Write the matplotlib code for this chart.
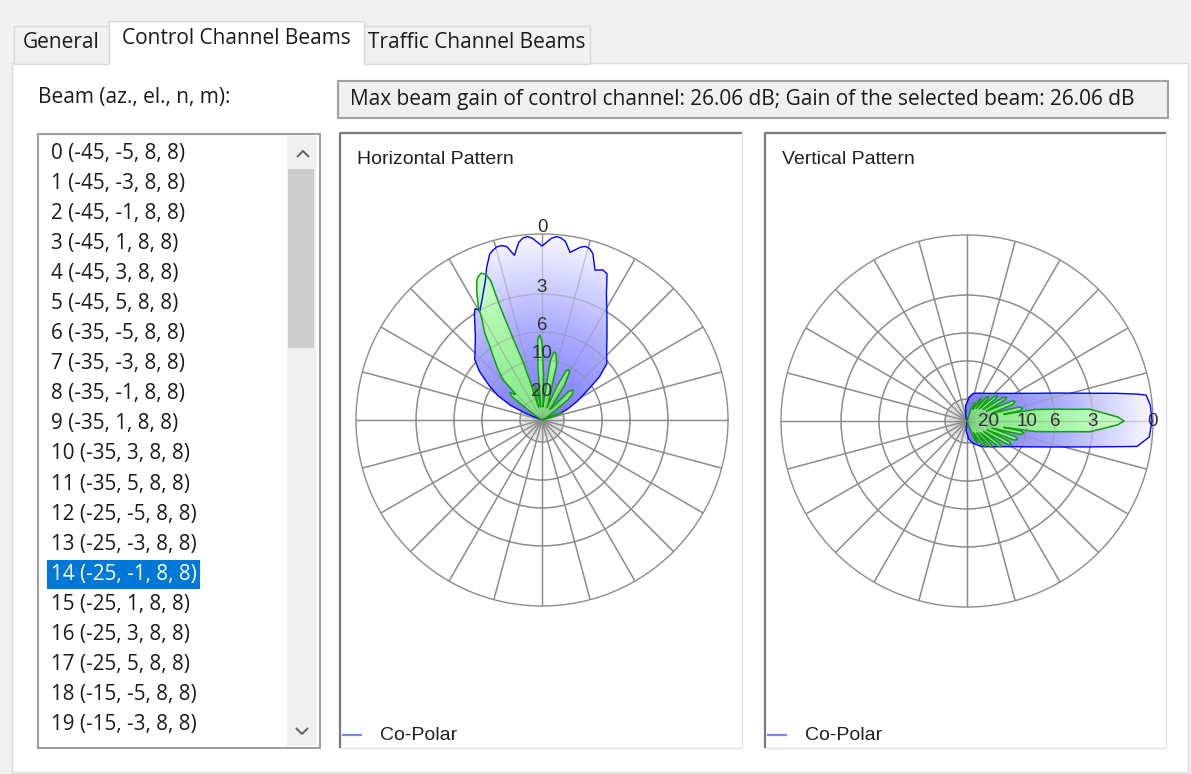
import numpy as np
import matplotlib
matplotlib.use('Agg')
import matplotlib.pyplot as plt
from matplotlib.patches import Rectangle
from matplotlib.colors import LinearSegmentedColormap

W, H = 1191, 774
UI_FONT = ['Open Sans', 'DejaVu Sans']
PLOT_FONT = ['Liberation Sans', 'DejaVu Sans']

TABS = ['General', 'Control Channel Beams', 'Traffic Channel Beams']
INFO = 'Max beam gain of control channel: 26.06 dB; Gain of the selected beam: 26.06 dB'

# beam list (index, az, el, n, m)
BEAM_AZ = [-45] * 6 + [-35] * 6 + [-25] * 6 + [-15] * 2
BEAM_EL = [-5, -3, -1, 1, 3, 5] * 3 + [-5, -3]
BEAM_N = 8
BEAM_M = 8
SELECTED = 14

# radial scale: attenuation (dB) -> normalised radius
RING_DB = [0, 3, 6, 10, 20, 30]
RING_R = [1.0, 0.677, 0.473, 0.323, 0.118, 0.0]

# horizontal pattern, envelope over all beams (angle deg, attenuation dB)
H_ENV_ANG = [16, 19, 23, 28, 33, 37, 41, 46, 51, 55, 59, 63, 66, 68, 70.5, 73, 74.5, 76, 77.5,
             80.5, 82.5, 84, 85.5, 87, 90, 93, 94.5, 96, 97.5, 99.5, 101.5, 103, 104.5, 106,
             107.5, 110, 112, 116, 119.5, 121, 122.5, 128.5, 133, 138, 142, 147, 151, 155, 158, 162]
H_ENV_DB = [30, 22, 18.5, 15.3, 11.5, 8.3, 6.3, 5.6, 4.8, 4.0, 3.0, 2.2, 1.3, 1.2, 1.35, 0.6, 0.4,
            0.35, 0.45, 0.8, 0.3, 0.15, 0.1, 0.2, 0.6, 0.2, 0.1, 0.15, 0.35, 0.95, 0.45, 0.35,
            0.35, 0.45, 0.6, 1.2, 1.75, 2.5, 3.0, 2.8, 3.0, 4.5, 5.2, 5.8, 7.2, 9.6, 12.5, 16.6, 22, 30]

# horizontal pattern, selected beam
H_SEL_ANG = [12, 17, 18.5, 19.5, 20.5, 22, 27, 33, 38, 41, 44, 47, 50, 53, 57, 60, 62, 64, 66, 68,
             71, 75, 78, 80, 82, 84, 86, 88, 90, 91.5, 93, 94.5, 96, 98, 100.5, 103, 105, 107, 108,
             109.5, 110.3, 110.2, 111, 112.5, 114, 115, 117, 119.3, 121, 123.3, 125.5, 127.5, 131,
             134, 135.5, 137, 139.5, 142, 144, 147, 152]
H_SEL_DB = [30, 24, 21, 20.4, 21, 24, 28, 26, 17, 15, 14.4, 15.5, 22, 24, 15, 11.5, 10.7, 11.5, 16,
            24, 20, 11, 8.9, 8.7, 10, 20, 24, 14, 7.5, 6.4, 7, 12, 24, 19, 16.6, 18, 24, 16.6, 10,
            6.3, 3.3, 1.9, 1.5, 1.35, 1.45, 1.6, 2.1, 2.8, 3.8, 4.7, 5.9, 7.1, 9, 11, 16, 16, 14.7,
            15.5, 22, 27, 30]

# vertical pattern, envelope over all beams
V_ENV_ANG = [-105, -95, -85, -75, -60, -45, -30, -22, -16, -12, -10, -8.5, -5, 0, 5, 8.2, 9, 10.5,
             13, 17, 22, 28, 35, 45, 55, 65, 77, 85, 95, 105]
V_ENV_DB = [30, 25.5, 21.8, 19.7, 18, 16.2, 12.3, 8.7, 5.5, 3.1, 1.9, 0.7, 0.15, 0.05, 0.1, 0.25,
            0.7, 1.7, 3.2, 5.4, 8.0, 10.3, 13.1, 15.5, 16.9, 17.7, 18.3, 19.5, 23, 27.7]

# vertical pattern, selected beam
V_SEL_ANG = [-80, -69, -67, -65, -63, -60.5, -57, -55, -53, -50.5,
             -48, -46, -44, -41.5, -39, -37, -35, -32.5, -30, -28,
             -26, -24, -22, -20, -18, -16, -14, -12, -10.5, -9.8,
             -8.8, -6.8, -5.6, -5.0, -2.7, -1.4, 0, 1.5, 2.9, 5.5,
             6.1, 7.5, 9.6, 10.4, 11, 13, 15, 17.5, 20, 22,
             24, 26.5, 29, 31, 33, 35.5, 38, 40, 42, 44.5,
             47, 49, 51, 53.5, 56, 58, 60, 62.5, 65, 67,
             69, 72, 82]
V_SEL_DB = [30, 25, 20.4, 19.5, 20.4, 24, 18.2, 17.4, 18.2, 23,
            16.9, 16.1, 16.9, 22, 15.3, 14.5, 15.3, 21, 13.4, 12.6,
            13.4, 20, 12.4, 11.6, 12.4, 19, 11.3, 10.5, 11.3, 16,
            8.7, 5.8, 4.3, 3.2, 2.3, 1.75, 1.45, 1.75, 2.3, 3.2,
            4.3, 5.8, 8.7, 16, 11.6, 10.8, 11.6, 19, 12.9, 12.1,
            12.9, 20, 14.5, 13.7, 14.5, 21, 16.1, 15.3, 16.1, 22,
            17.9, 17.1, 17.9, 23, 19.5, 18.7, 19.5, 24, 21.7, 20.9,
            21.7, 25, 30]


def to_radius(db):
    return np.interp(db, RING_DB, RING_R)


blue_cmap = LinearSegmentedColormap.from_list('env', [(0, (112/255, 112/255, 1)), (0.5, (172/255, 172/255, 1)),
                                                     (1, (248/255, 248/255, 1))])
green_cmap = LinearSegmentedColormap.from_list('sel', [(0, (128/255, 228/255, 128/255)),
                                                      (0.5, (165/255, 245/255, 165/255)),
                                                      (1, (222/255, 1, 222/255))])
GRID = '#8c8c8c'

fig = plt.figure(figsize=(W / 100, H / 100), dpi=100, facecolor='#f0f0f0')
ui = fig.add_axes([0, 0, 1, 1])
ui.set_xlim(0, W)
ui.set_ylim(H, 0)
ui.axis('off')


def box(x0, y0, x1, y1, fc, ec='none', lw=0, z=1):
    ui.add_patch(Rectangle((x0, y0), x1 - x0, y1 - y0, facecolor=fc, edgecolor=ec, linewidth=lw, zorder=z))


def line(xs, ys, c, lw, z=2):
    ui.plot(xs, ys, color=c, lw=lw, zorder=z, solid_capstyle='butt')


# tab page
box(12, 63, 1188, 772, 'white', '#dadada', 1)
box(14, 26, 109, 64, '#f0f0f0', '#d9d9d9', 1)
box(364, 26, 590, 64, '#f0f0f0', '#d9d9d9', 1)
box(109, 21, 364, 64.6, 'white', 'none', 0, z=2)
line([109, 109, 364, 364], [64, 21, 21, 64], '#d9d9d9', 1, z=3)
ui.text(61, 43, TABS[0], family=UI_FONT, fontsize=15, color='#1a1a1a', ha='center', va='center')
ui.text(236, 38, TABS[1], family=UI_FONT, fontsize=15, color='#1a1a1a', ha='center', va='center', zorder=4)
ui.text(477, 43, TABS[2], family=UI_FONT, fontsize=15, color='#1a1a1a', ha='center', va='center')

ui.text(38, 97, 'Beam (az., el., n, m):', family=UI_FONT, fontsize=15, color='#1a1a1a', va='center')
box(338, 81, 1168, 118, '#f0f0f0', '#a0a0a0', 1.5)
ui.text(350, 100, INFO, family=UI_FONT, fontsize=15, color='#1a1a1a', va='center')

# beam list box with scrollbar
box(38, 134, 320, 748, 'white', '#a0a0a0', 1.5)
box(287, 136, 316, 746, '#f0f0f0')
box(288, 169, 314, 348, '#cdcdcd')
line([297, 303, 309], [157, 151, 157], '#606060', 1.4)
line([296, 302, 308], [728, 734, 728], '#606060', 1.4)
for i, (az, el) in enumerate(zip(BEAM_AZ, BEAM_EL)):
    y = 153 + 30.1 * i
    label = f'{i} ({az}, {el}, {BEAM_N}, {BEAM_M})'
    col = '#1a1a1a'
    if i == SELECTED:
        box(47, y - 14.5, 200, y + 14.5, '#0078d7', z=2)
        col = 'white'
    ui.text(51, y, label, family=UI_FONT, fontsize=14.9, color=col, va='center', zorder=3)


def panel(x0, x1, title):
    box(x0, 133, x1, 748, 'white', '#e3e3e3', 1)
    line([x0, x0, x1], [748, 133, 133], '#7a7a7a', 1.6, z=3)
    ui.text(x0 + 17, 160, title, family=PLOT_FONT, fontsize=14, color='#202020', va='center')
    line([x0 + 2, x0 + 22], [735, 735], '#8080ff', 1.6)
    ui.text(x0 + 40, 735, 'Co-Polar', family=PLOT_FONT, fontsize=14, color='#202020', va='center')


panel(340, 742, 'Horizontal Pattern')
panel(765, 1166, 'Vertical Pattern')

t_mesh = np.linspace(0, 2 * np.pi, 361)
r_mesh = np.linspace(0, 1, 81)
T_MESH, R_MESH = np.meshgrid(t_mesh, r_mesh)
C_MESH = np.meshgrid(t_mesh[:-1], (r_mesh[:-1] + r_mesh[1:]) / 2)[1]
SPOKES = np.radians(np.arange(0, 360, 15))


def polar_axes(cx, cy, R):
    ax = fig.add_axes([(cx - R) / W, (H - cy - R) / H, 2 * R / W, 2 * R / H], projection='polar')
    ax.set_facecolor('none')
    ax.set_xticks(SPOKES)
    ax.set_xticklabels([])
    ax.set_yticks(RING_R[1:5])
    ax.set_yticklabels([])
    ax.tick_params(length=0)
    ax.grid(color=GRID, lw=1.0)
    ax.spines['polar'].set_color(GRID)
    ax.spines['polar'].set_linewidth(1.0)
    # finer spokes inside the innermost ring
    for a in range(0, 360, 5):
        if a % 15:
            ax.plot([np.radians(a)] * 2, [0, RING_R[4]], color='#c4c4c4', lw=0.5, zorder=1.4)
    return ax


def grid_overlay(ax):
    # faint copy of the grid so it shows through the filled patterns
    th = np.linspace(0, 2 * np.pi, 361)
    for r in RING_R[1:5]:
        ax.plot(th, np.full_like(th, r), color=GRID, lw=1.0, alpha=0.4, zorder=2.5)
    for s in SPOKES:
        ax.plot([s, s], [0, 1], color=GRID, lw=1.0, alpha=0.4, zorder=2.5)


def draw_pattern(ax, ang, att, cmap, edge, lw):
    th = np.radians(ang)
    r = to_radius(att)
    poly = ax.fill(th, r, facecolor='none', edgecolor='none', zorder=2)[0]
    mesh = ax.pcolormesh(T_MESH, R_MESH, C_MESH, cmap=cmap, vmin=0, vmax=1,
                         shading='flat', zorder=2, edgecolors='none', antialiased=False)
    mesh.set_clip_path(poly)
    ax.plot(np.r_[th, th[:1]], np.r_[r, r[:1]], color=edge, lw=lw, zorder=3)


axh = polar_axes(542, 420, 186)
draw_pattern(axh, H_ENV_ANG, H_ENV_DB, blue_cmap, '#0000ff', 1.0)
draw_pattern(axh, H_SEL_ANG, H_SEL_DB, green_cmap, '#10a010', 1.1)
grid_overlay(axh)
for db, r in zip(RING_DB[:5], RING_R[:5]):
    axh.annotate(str(db), xy=(np.pi / 2, r), xytext=(0, -2), textcoords='offset pixels',
                 ha='center', va='bottom', family=PLOT_FONT, fontsize=13.5, color='#303030',
                 zorder=5, annotation_clip=False)
axh.set_ylim(0, 1)

axv = polar_axes(967, 421, 186)
draw_pattern(axv, V_ENV_ANG, V_ENV_DB, blue_cmap, '#0000ff', 1.0)
draw_pattern(axv, V_SEL_ANG, V_SEL_DB, green_cmap, '#10a010', 1.1)
grid_overlay(axv)
for db, r in zip(RING_DB[:5], RING_R[:5]):
    axv.annotate(str(db), xy=(0, r), ha='center', va='center', family=PLOT_FONT, fontsize=13.5,
                 color='#303030', zorder=5, annotation_clip=False)
axv.set_ylim(0, 1)

fig.savefig('out.png', dpi=100, facecolor=fig.get_facecolor())
